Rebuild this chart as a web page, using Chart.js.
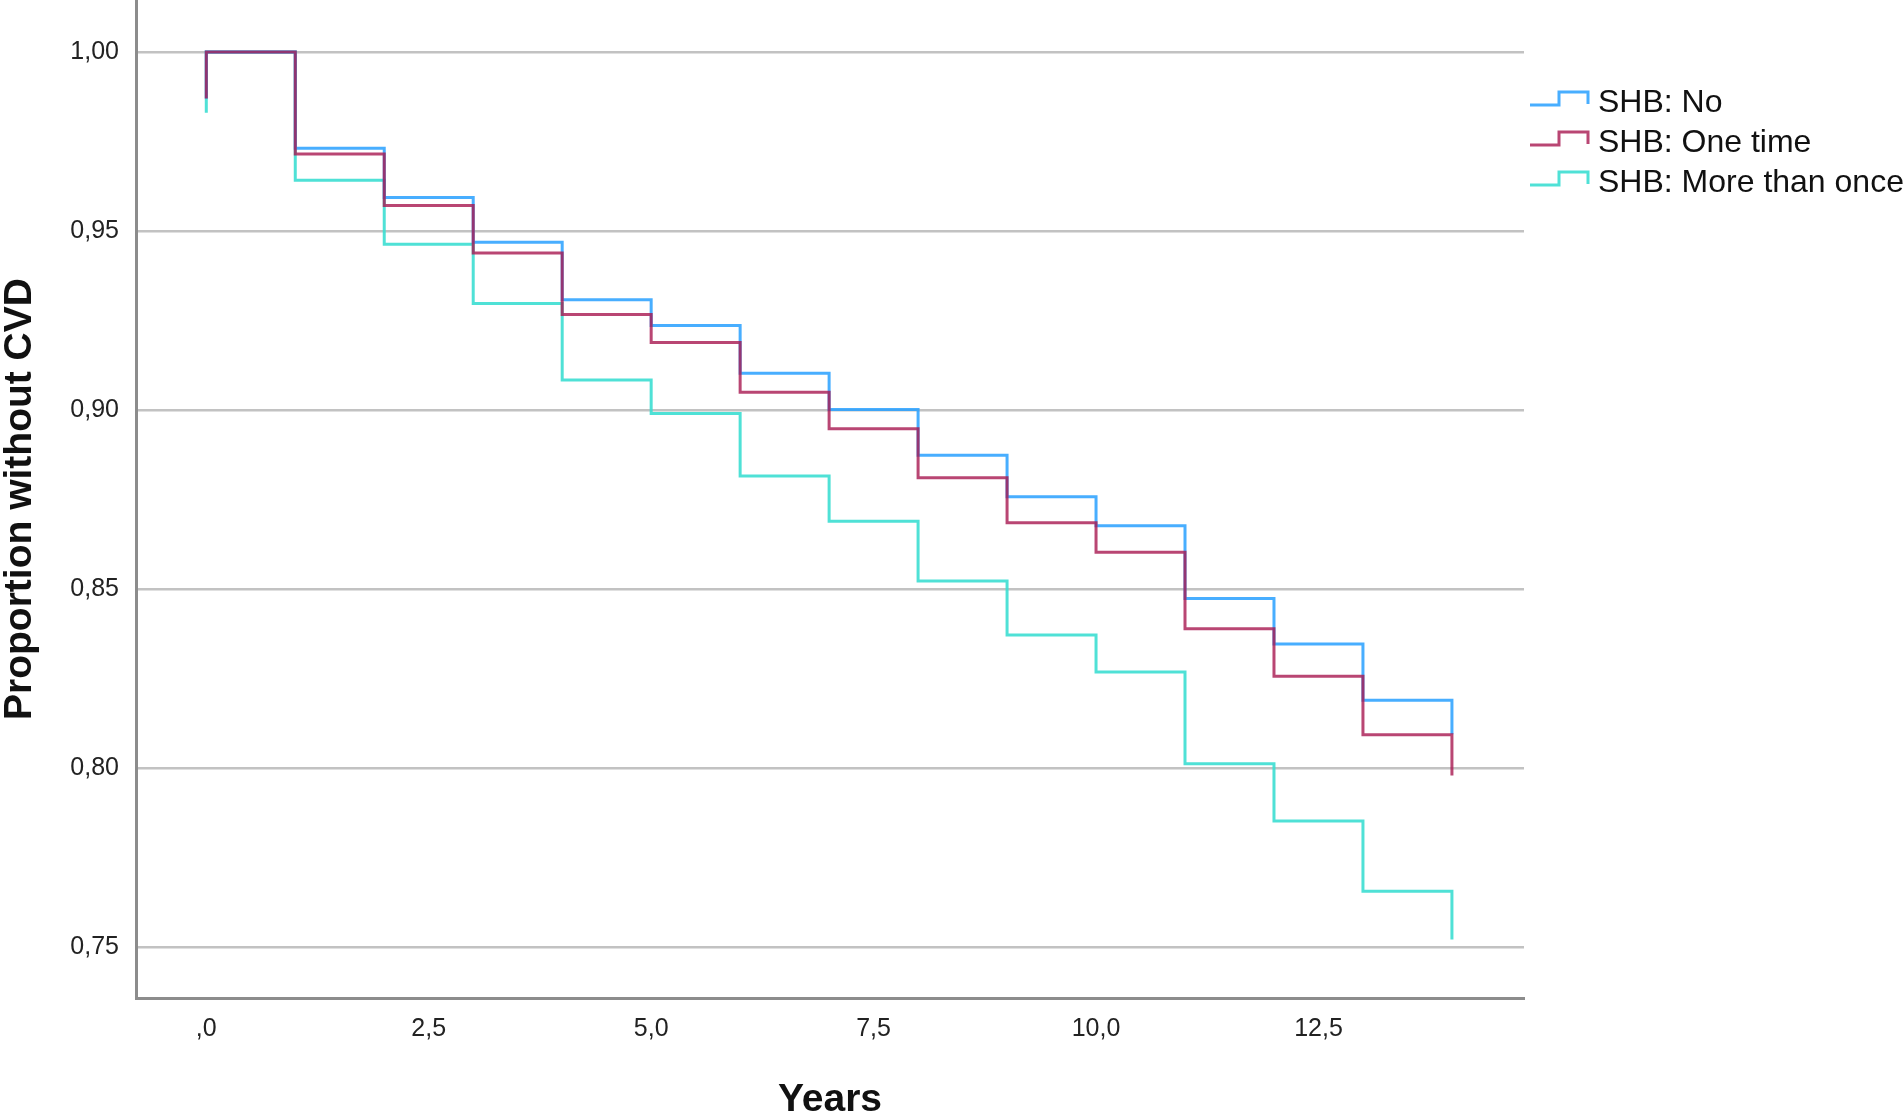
<!DOCTYPE html>
<html>
<head>
<meta charset="utf-8">
<title>Proportion without CVD</title>
<script src="https://cdn.jsdelivr.net/npm/chart.js@4.4.1/dist/chart.umd.min.js"></script>
<style>
  html, body { margin: 0; padding: 0; background: #fff; }
  #wrap { width: 1904px; height: 1115px; }
</style>
</head>
<body>
<div id="wrap"><canvas id="chart1" width="1904" height="1115"></canvas></div>
<script>
// follow-up years (event times)
const years = [0, 1, 2, 3, 4, 5, 6, 7, 8, 9, 10, 11, 12, 13, 14];

// survival (proportion without CVD) from each year onward
const survNo = [1.000, 0.9731, 0.9594, 0.9469, 0.9308, 0.9236, 0.9103, 0.9002, 0.8874, 0.8758, 0.8677, 0.8474, 0.8347, 0.8190, 0.8095];
const survOnce = [1.000, 0.9715, 0.9571, 0.9439, 0.9267, 0.9189, 0.9050, 0.8948, 0.8811, 0.8686, 0.8603, 0.8390, 0.8257, 0.8094, 0.7980];
const survMore = [1.000, 0.9642, 0.9463, 0.9298, 0.9084, 0.8991, 0.8816, 0.8690, 0.8523, 0.8372, 0.8269, 0.8013, 0.7853, 0.7657, 0.7522];

// little tail drawn at time 0
const startValues = [0.987, 0.987, 0.983];

const seriesLabels = ["SHB: No", "SHB: One time", "SHB: More than once"];
const seriesColors = ["rgba(40,160,255,0.85)", "rgba(168,24,80,0.8)", "rgba(60,222,210,0.9)"];

const xTicks = [0, 2.5, 5, 7.5, 10, 12.5];
const xTickLabels = [",0", "2,5", "5,0", "7,5", "10,0", "12,5"];
const yTicks = [0.75, 0.80, 0.85, 0.90, 0.95, 1.00];
const yTickLabels = ["0,75", "0,80", "0,85", "0,90", "0,95", "1,00"];

function build_points(start, values) {
  const pts = [{ x: years[0], y: start }];
  years.forEach((t, i) => pts.push({ x: t, y: values[i] }));
  return pts;
}

const allSeries = [survNo, survOnce, survMore];
const datasets = allSeries.map((vals, i) => ({
  label: seriesLabels[i],
  data: build_points(startValues[i], vals),
  borderColor: seriesColors[i],
  borderWidth: 3,
  stepped: true,
  pointRadius: 0,
  fill: false,
  tension: 0,
  order: [1, 0, 2][i],
}));

// legend with step symbols, drawn right of the plot
const stepLegend = {
  id: "stepLegend",
  afterDraw(chart) {
    const ctx = chart.ctx;
    const baselines = [112, 152, 192];
    ctx.save();
    chart.data.datasets.forEach((ds, i) => {
      const b = baselines[i];
      ctx.strokeStyle = ds.borderColor;
      ctx.lineWidth = 3;
      ctx.lineJoin = "miter";
      ctx.beginPath();
      ctx.moveTo(1530, b - 7);
      ctx.lineTo(1559, b - 7);
      ctx.lineTo(1559, b - 20);
      ctx.lineTo(1588, b - 20);
      ctx.lineTo(1588, b - 8);
      ctx.stroke();
      ctx.fillStyle = "#111";
      ctx.font = "32px 'Liberation Sans', Arial, sans-serif";
      ctx.textAlign = "left";
      ctx.textBaseline = "alphabetic";
      ctx.fillText(ds.label, 1598, b);
    });
    ctx.restore();
  }
};

const ctx = document.getElementById("chart1");
const chart = new Chart(ctx, {
  type: "line",
  data: { datasets },
  plugins: [stepLegend],
  options: {
    responsive: false,
    animation: false,
    devicePixelRatio: 1,
    layout: { padding: { left: 0, right: 380, top: 0, bottom: 0 } },
    plugins: { legend: { display: false }, tooltip: { enabled: false } },
    scales: {
      x: {
        type: "linear",
        position: "bottom",
        min: -0.79,
        max: 14.81,
        afterFit: (scale) => {
          scale.height = 117;
          scale.paddingLeft = 0;
          scale.paddingRight = 0;
        },
        afterBuildTicks: (scale) => { scale.ticks = xTicks.map(v => ({ value: v })); },
        grid: { display: true, color: "rgba(0,0,0,0)", drawTicks: false },
        border: { display: true, color: "#8c8c8c", width: 3 },
        ticks: {
          autoSkip: false,
          maxRotation: 0,
          padding: 16,
          color: "#222",
          font: { family: "'Liberation Sans', Arial, sans-serif", size: 25 },
          callback: (v, i) => xTickLabels[i],
        },
        title: {
          display: true,
          text: "Years",
          color: "#111",
          padding: 0,
          font: { family: "'Liberation Sans', Arial, sans-serif", size: 39, weight: "bold", lineHeight: 0.75 },
        },
      },
      y: {
        type: "linear",
        min: 0.7359,
        max: 1.0145,
        afterFit: (scale) => {
          scale.width = 136;
          scale.paddingTop = 0;
          scale.paddingBottom = 0;
        },
        afterBuildTicks: (scale) => { scale.ticks = yTicks.map(v => ({ value: v })); },
        grid: { color: "#c2c2c2", lineWidth: 2.5, drawTicks: false },
        border: { display: true, color: "#8c8c8c", width: 3 },
        ticks: {
          padding: 17,
          color: "#222",
          font: { family: "'Liberation Sans', Arial, sans-serif", size: 25 },
          callback: (v, i) => yTickLabels[i],
        },
        title: {
          display: true,
          text: "Proportion without CVD",
          color: "#111",
          padding: 0,
          font: { family: "'Liberation Sans', Arial, sans-serif", size: 39, weight: "bold", lineHeight: 1.05 },
        },
      },
    },
  },
});
</script>
</body>
</html>
